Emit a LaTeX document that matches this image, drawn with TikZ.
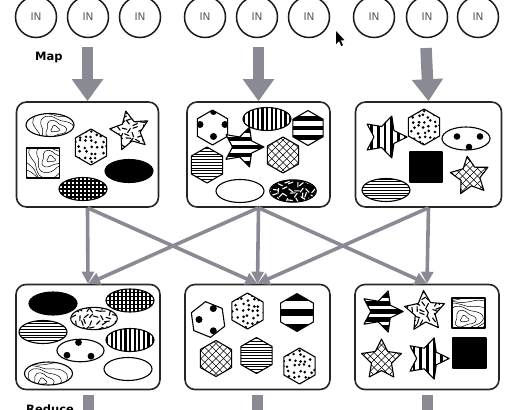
\documentclass[tikz,border=0pt]{standalone}
\usepackage{fontspec}
\setmainfont{DejaVu Sans}
\usetikzlibrary{arrows.meta}
\definecolor{agray}{RGB}{138,138,148}
\definecolor{intext}{RGB}{85,85,85}
\tikzset{
 inbox/.style={draw=black!90, line width=1.5pt, circle, minimum size=41pt, inner sep=0pt, font=\fontsize{10.5}{11}\selectfont, text=intext},
 mapbox/.style={draw=black!85, line width=1.6pt, rounded corners=10pt, minimum height=105pt, inner sep=0pt},
 bigarrow/.style={draw=agray, line width=11.5pt, -{Triangle[width=30pt,length=22pt]}},
 bigshaft/.style={draw=agray, line width=11pt},
 link/.style={draw=agray, line width=3.6pt, -{Triangle[width=12pt,length=12pt]}},
 lbl/.style={font=\bfseries\fontsize{11.5}{12}\selectfont, inner sep=0pt},
 outl/.style={line width=1.1pt, line join=round},
}
% shape outlines (local coordinates)
\def\ELL{(0,0) ellipse [x radius=24pt, y radius=11.5pt]}
\def\HEX{(90:18) -- (30:18) -- (-30:18) -- (-90:18) -- (-150:18) -- (150:18) -- cycle}
\def\STAR{(-90:21) -- (-54:10.5) -- (-18:21) -- (18:10.5) -- (54:21) -- (90:10.5) -- (126:21) -- (162:10.5) -- (198:21) -- (234:10.5) -- cycle}
\def\SQR{(-16.5,-15) rectangle (16.5,15)}
% #1 outline, #2 x, #3 y, #4 options for outline, #5 fill code
\newcommand\shp[5]{%
 \begin{scope}[shift={(#2,#3)}]
  \fill[white,#4] #1;
  \begin{scope}\clip[#4] #1; #5\end{scope}
  \draw[outl,#4] #1;
 \end{scope}}
% fills
\newcommand\FBlack{\fill (-30,-30) rectangle (30,30);}
\newcommand\FHL{\foreach \k in {-9,...,9}{\draw[line width=0.55pt] (-30,{\k*2.8}) -- (30,{\k*2.8});}}
\newcommand\FHB[2]{\foreach \k in {-5,...,5}{\fill (-30,{\k*#1-#2}) rectangle (30,{\k*#1+#2});}}
\newcommand\FVB[2]{\foreach \k in {-8,...,8}{\fill ({\k*#1-#2},-30) rectangle ({\k*#1+#2},30);}}
\newcommand\FGrid{\foreach \k in {-8,...,8}{\draw[line width=1.4pt] (-30,{\k*4}) -- (30,{\k*4}); \draw[line width=1.4pt] ({\k*4},-30) -- ({\k*4},30);}}
\newcommand\FCross{\foreach \k in {-8,...,8}{\draw[line width=0.6pt] ({\k*7.5-30},-30) -- ({\k*7.5+30},30); \draw[line width=0.6pt] ({\k*7.5+30},-30) -- ({\k*7.5-30},30);}}
\newcommand\FDots{\foreach \i in {-22,-16.5,...,22}{\foreach \j in {-22,-16.5,...,22}{\fill ({\i+1.7*rand},{\j+1.7*rand}) circle[radius=1.45pt];}}}
\newcommand\FDash[1]{\foreach \i in {-24,-18.5,...,24}{\foreach \j in {-24,-18.5,...,24}{\pgfmathsetmacro\aa{360*rnd}\draw[#1,line width=1.1pt,line cap=round] ({\i+2*rand},{\j+2*rand}) +(\aa:2.4) -- +(\aa+180:2.4);}}}
\newcommand\FTopo[1]{\begin{scope}[shift={#1},xscale=1.3]\foreach \r in {3,7.5,...,48}{\draw[line width=0.5pt] plot[smooth cycle,samples=18,domain=0:340] (\x:{\r*(1+0.22*sin(3*\x+9*\r))});}\end{scope}}
\begin{document}
\begin{tikzpicture}[x=1pt,y=-1pt]
\pgfmathsetseed{7}
\useasboundingbox (0,0) rectangle (515,410);
% inputs
\foreach \n/\xx in {1/36,2/88,3/140,4/205,5/257,6/309,7/374,8/427,9/478}
  \node[inbox] (in\n) at (\xx,17) {IN};
% labels
\node[lbl,anchor=west] (map) at (35,57.5) {Map};
\node[lbl,anchor=north west] (reduce) at (26,405) {Reduce};
% boxes
\node[mapbox, minimum width=142pt] (b1) at (87.5,154.5) {};
\node[mapbox, minimum width=143pt] (b2) at (258.5,154.5) {};
\node[mapbox, minimum width=146pt] (b3) at (428.5,154.5) {};
\node[mapbox, minimum width=144pt] (b4) at (88,337) {};
\node[mapbox, minimum width=145pt] (b5) at (257.5,337) {};
\node[mapbox, minimum width=144pt] (b6) at (427,337) {};
% map arrows
\coordinate (m1) at (87.5,47);
\coordinate (m2) at (258.5,47);
\coordinate (m3) at (426,48);
\draw[bigarrow] (m1) -- (b1.north);
\draw[bigarrow] (m2) -- (b2.north);
\draw[bigarrow] (m3) -- (b3.north);
% shuffle links
\foreach \a/\b in {b1/b4,b1/b5,b2/b4,b2/b5,b2/b6,b3/b5,b3/b6}
  \draw[link] (\a.south) -- (\b.north);
% reduce shafts
\coordinate (r1) at (88,425);
\coordinate (r2) at (257.5,425);
\coordinate (r3) at (427,425);
\draw[bigshaft] ([yshift=-5pt]b4.south) -- (r1);
\draw[bigshaft] ([yshift=-5pt]b5.south) -- (r2);
\draw[bigshaft] ([yshift=-5pt]b6.south) -- (r3);
% cursor
\fill[black] (336,31) -- (336,44) -- (339,41) -- (341.3,46) -- (343,45.2) -- (340.8,40.4) -- (344.5,40.2) -- cycle;
% ---- box 1
\shp{\ELL}{50}{125}{}{\FTopo{(5,4)}}
\shp{\HEX}{91}{147}{}{\FDots}
\shp{\SQR}{43}{163}{}{\FTopo{(8,-4)}}
\shp{\STAR}{130}{131}{rotate=12,scale=0.97}{\FDash{black}}
\shp{\ELL}{129}{171}{}{\FBlack}
\shp{\ELL}{83}{189}{}{\FGrid}
% ---- box 2
\shp{\HEX}{212.5}{127.5}{scale=0.97}{\fill (1,-16) circle[radius=3.5pt]; \fill (-12.5,-3) circle[radius=3.5pt]; \fill (12.5,-3) circle[radius=3.5pt]; \fill (1,9) circle[radius=3.5pt];}
\shp{\ELL}{267}{119}{}{\FVB{4.6}{1.1}}
\shp{\HEX}{308}{128}{scale=0.97}{\FHB{9.5}{2.4}}
\shp{\HEX}{283}{155}{}{\FCross}
\shp{\HEX}{207}{165}{}{\FHL}
\shp{\STAR}{243}{147}{rotate=-90}{\FHB{8}{2.1}}
\shp{\ELL}{240}{191}{}{}
\shp{\ELL}{293}{191}{scale=0.97}{\FBlack\FDash{white}}
% ---- box 3
\shp{\STAR}{385}{137}{rotate=-90,scale=1.05}{\FVB{6.8}{1.4}}
\shp{\HEX}{424}{127}{}{\FDots}
\shp{\ELL}{466}{138.5}{}{\fill (-9,-2) circle[radius=3.3pt]; \fill (14,-2) circle[radius=3.3pt]; \fill (3,8.5) circle[radius=3.3pt];}
\shp{\SQR}{426}{167}{xscale=0.97}{\FBlack}
\shp{\STAR}{470}{176}{rotate=8,scale=0.95}{\FCross}
\shp{\ELL}{386}{190}{}{\FHL}
% ---- box 4
\shp{\ELL}{53}{303.5}{}{\FBlack}
\shp{\ELL}{130}{300.5}{}{\FGrid}
\shp{\ELL}{94}{318.5}{scale=0.97}{\FDash{black}}
\shp{\ELL}{43}{332}{}{\FHL}
\shp{\ELL}{130}{340}{}{\FVB{4.6}{1.1}}
\shp{\ELL}{80.5}{350.5}{scale=0.98}{\fill (-2,-8) circle[radius=3.4pt]; \fill (-13.5,4.7) circle[radius=3.4pt]; \fill (10.5,5.7) circle[radius=3.4pt];}
\shp{\ELL}{48.5}{373.5}{}{\FTopo{(-6,8)}}
\shp{\ELL}{128}{369}{}{}
% ---- box 5
\shp{\HEX}{208}{319.5}{rotate=8}{\fill (5.3,-11) circle[radius=3.5pt]; \fill (-9,0) circle[radius=3.5pt]; \fill (5.3,11.3) circle[radius=3.5pt];}
\shp{\HEX}{247.5}{311}{}{\FDots}
\shp{\HEX}{297}{312.5}{scale=1.05}{\FHB{15.2}{3.8}}
\shp{\HEX}{216}{358.5}{}{\FCross}
\shp{\HEX}{256.5}{355.5}{}{\FHL}
\shp{\HEX}{299.5}{366}{}{\FDots}
% ---- box 6
\shp{\STAR}{381.5}{311.5}{rotate=-90,scale=1.03}{\FHB{8}{2.1}}
\shp{\STAR}{425}{311.5}{rotate=4}{\FDash{black}}
\shp{\SQR}{468.5}{313}{}{\FTopo{(-4,6)}}
\shp{\STAR}{381.5}{360}{}{\FCross}
\shp{\STAR}{427.5}{358.5}{rotate=-90,scale=1.03}{\FVB{6.8}{1.4}}
\shp{\SQR}{469.5}{353}{}{\FBlack}
\end{tikzpicture}
\end{document}
